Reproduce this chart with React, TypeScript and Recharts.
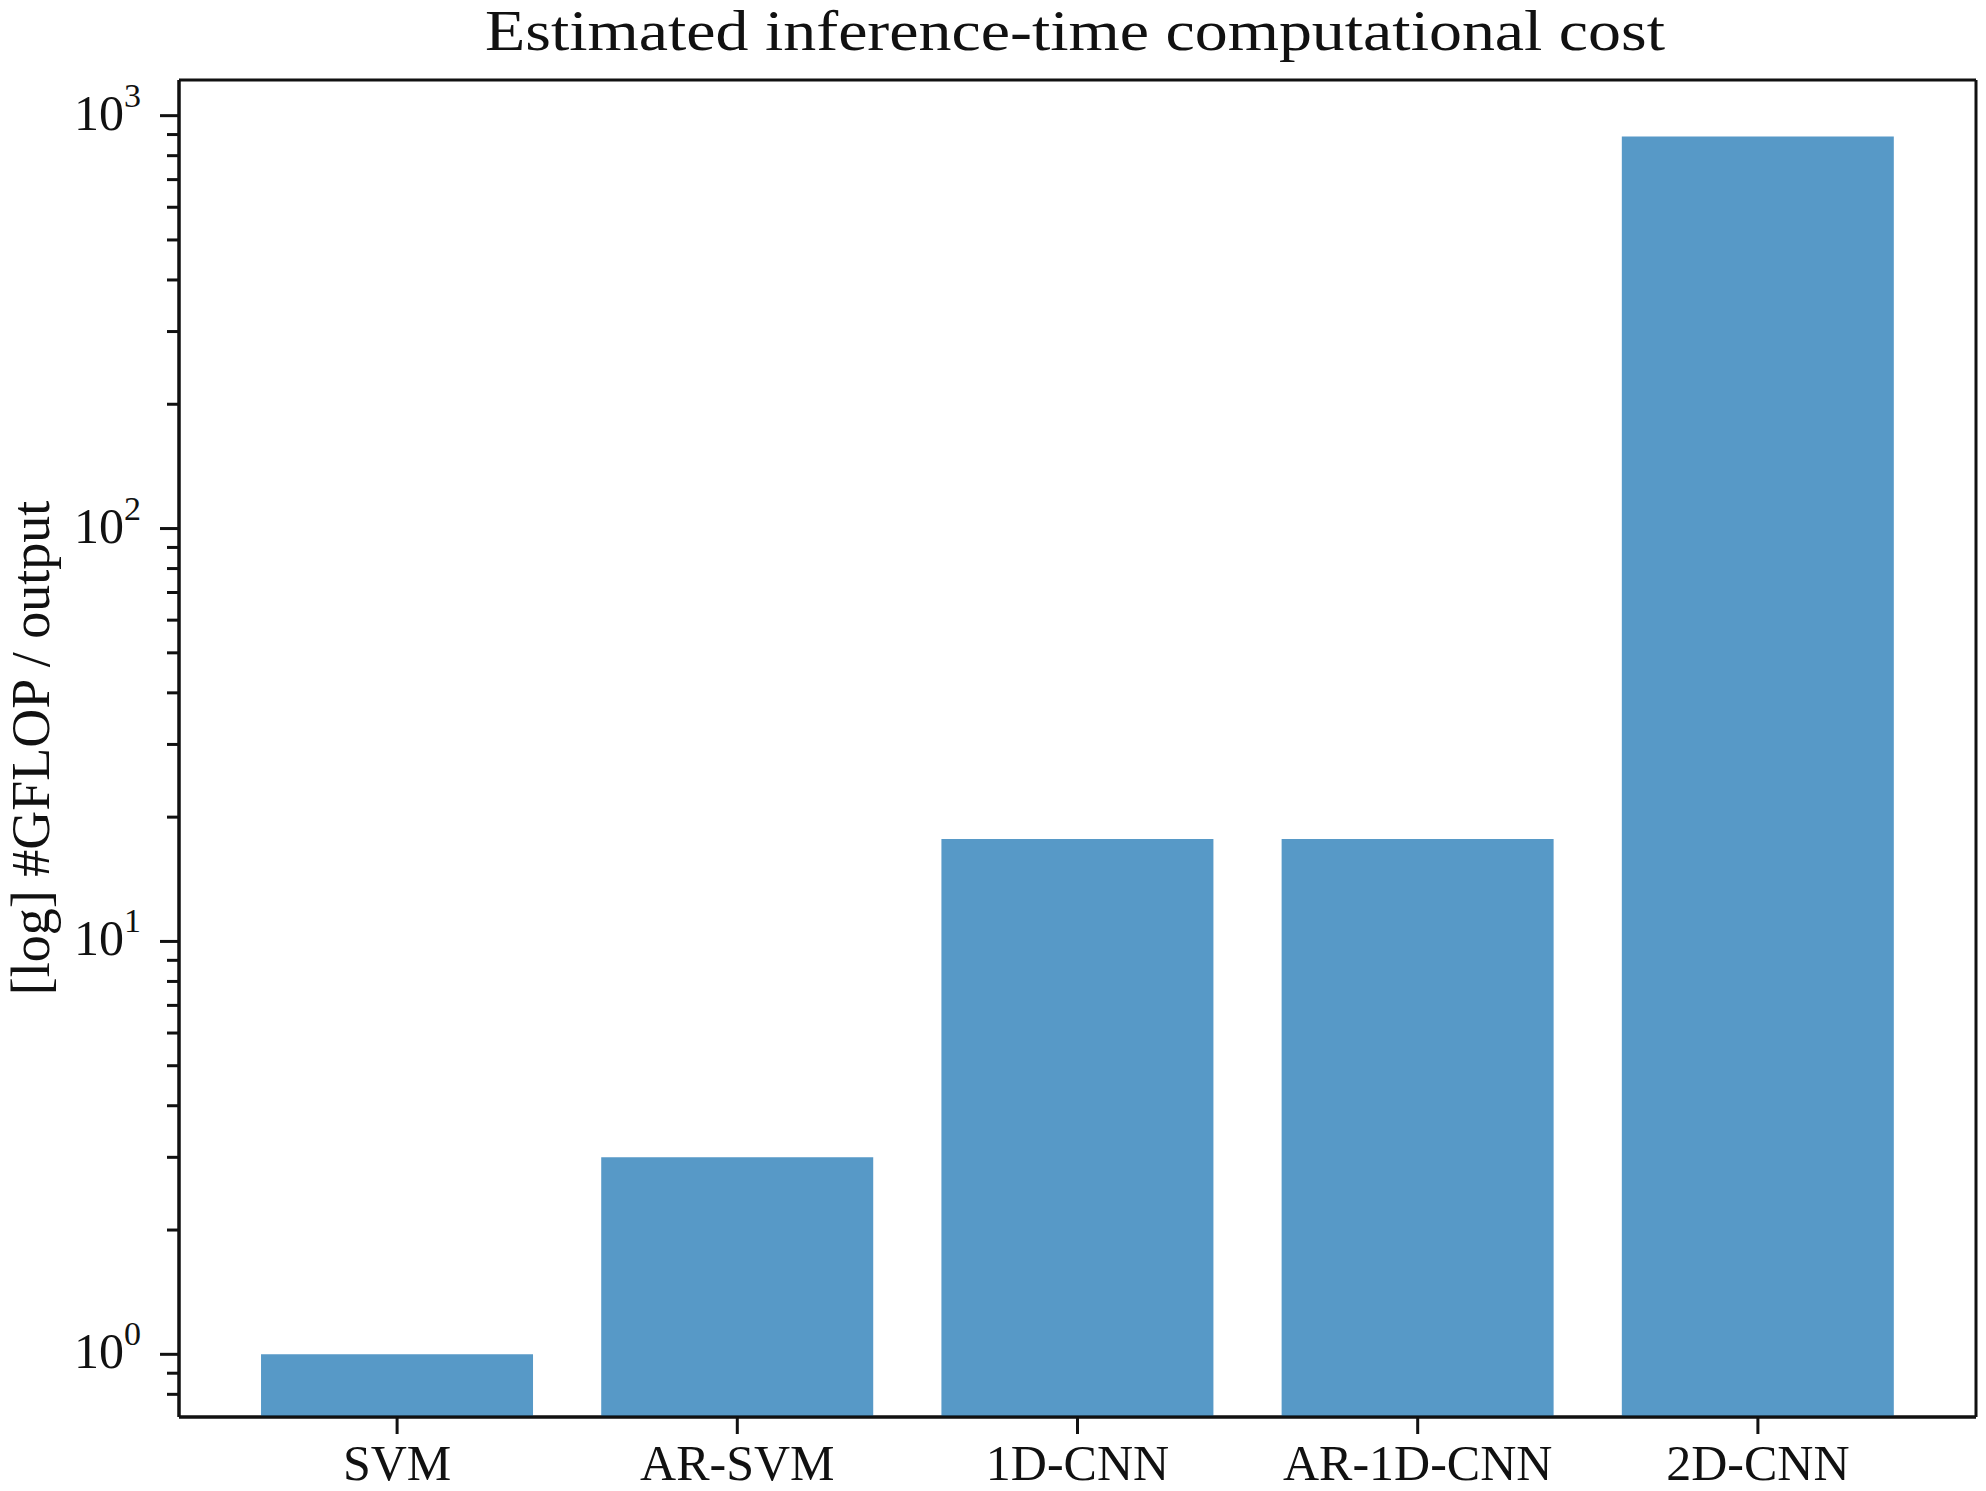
import React from "react";
import { BarChart, Bar, XAxis, YAxis, CartesianGrid } from "recharts";

const models = ["SVM", "AR-SVM", "1D-CNN", "AR-1D-CNN", "2D-CNN"];
const gflops = [1.0, 3.0, 17.7, 17.7, 890];

const majorTicks = [1, 10, 100, 1000];
const minorTicks = [
  0.8, 0.9, 2, 3, 4, 5, 6, 7, 8, 9, 20, 30, 40, 50, 60, 70, 80, 90, 200, 300,
  400, 500, 600, 700, 800, 900,
];
const yDomain = [0.705, 1220];

const data = models.map((model, i) => ({ model, value: gflops[i] }));
const allTicks = [...minorTicks, ...majorTicks].sort((a, b) => a - b);

const FONT = "'Liberation Serif', 'Times New Roman', serif";
const INK = "#111";

function YTick(props: any) {
  const { x, y, payload } = props;
  const v = payload.value;
  const major = majorTicks.includes(v);
  const exp = Math.round(Math.log10(v));
  return (
    <g>
      <line x1={x - (major ? 19 : 12)} x2={x} y1={y} y2={y} stroke={INK} strokeWidth={3} />
      {major && (
        <text x={x - 38} y={y + 14} textAnchor="end" fontFamily={FONT} fontSize={50} fill={INK}>
          <tspan>10</tspan>
          <tspan dy={-23} fontSize={34}>{exp}</tspan>
        </text>
      )}
    </g>
  );
}

function XTick(props: any) {
  const { x, y, payload } = props;
  return (
    <g>
      <line x1={x} x2={x} y1={y} y2={y + 17} stroke={INK} strokeWidth={3} />
      <text x={x} y={y + 63} textAnchor="middle" fontFamily={FONT} fontSize={50} fill={INK}>
        {payload.value}
      </text>
    </g>
  );
}

export default function App() {
  return (
    <div style={{ position: "absolute", left: 0, top: 0, width: 1986, height: 1491, background: "#fff" }}>
      <svg width={1986} height={80} style={{ position: "absolute", left: 0, top: 0 }}>
        <text
          x={1075}
          y={50}
          textAnchor="middle"
          fontFamily={FONT}
          fontSize={56}
          textLength={1180}
          lengthAdjust="spacingAndGlyphs"
          fill={INK}
        >
          Estimated inference-time computational cost
        </text>
      </svg>
      <BarChart
        width={1986}
        height={1491}
        data={data}
        margin={{ top: 80, right: 10, bottom: 0, left: 0 }}
        barCategoryGap="10%"
      >
        <CartesianGrid
          stroke={INK}
          strokeWidth={3}
          horizontalCoordinatesGenerator={({ offset }: any) => [offset.top, offset.top + offset.height]}
          verticalCoordinatesGenerator={({ offset }: any) => [offset.left, offset.left + offset.width]}
        />
        <XAxis
          dataKey="model"
          height={74}
          padding={{ left: 48, right: 48 }}
          tickSize={0}
          tickMargin={0}
          tickLine={false}
          axisLine={{ stroke: INK, strokeWidth: 3 }}
          tick={<XTick />}
          interval={0}
        />
        <YAxis
          scale="log"
          domain={yDomain}
          allowDataOverflow
          ticks={allTicks}
          interval={0}
          width={179}
          tickSize={0}
          tickMargin={0}
          tickLine={false}
          axisLine={{ stroke: INK, strokeWidth: 3 }}
          tick={<YTick />}
          label={() => (
            <text
              x={49}
              y={748}
              transform="rotate(-90 49 748)"
              textAnchor="middle"
              fontFamily={FONT}
              fontSize={54}
              fill={INK}
            >
              [log] #GFLOP / output
            </text>
          )}
        />
        <Bar dataKey="value" fill="#1f77b4" fillOpacity={0.75} isAnimationActive={false} />
      </BarChart>
    </div>
  );
}
